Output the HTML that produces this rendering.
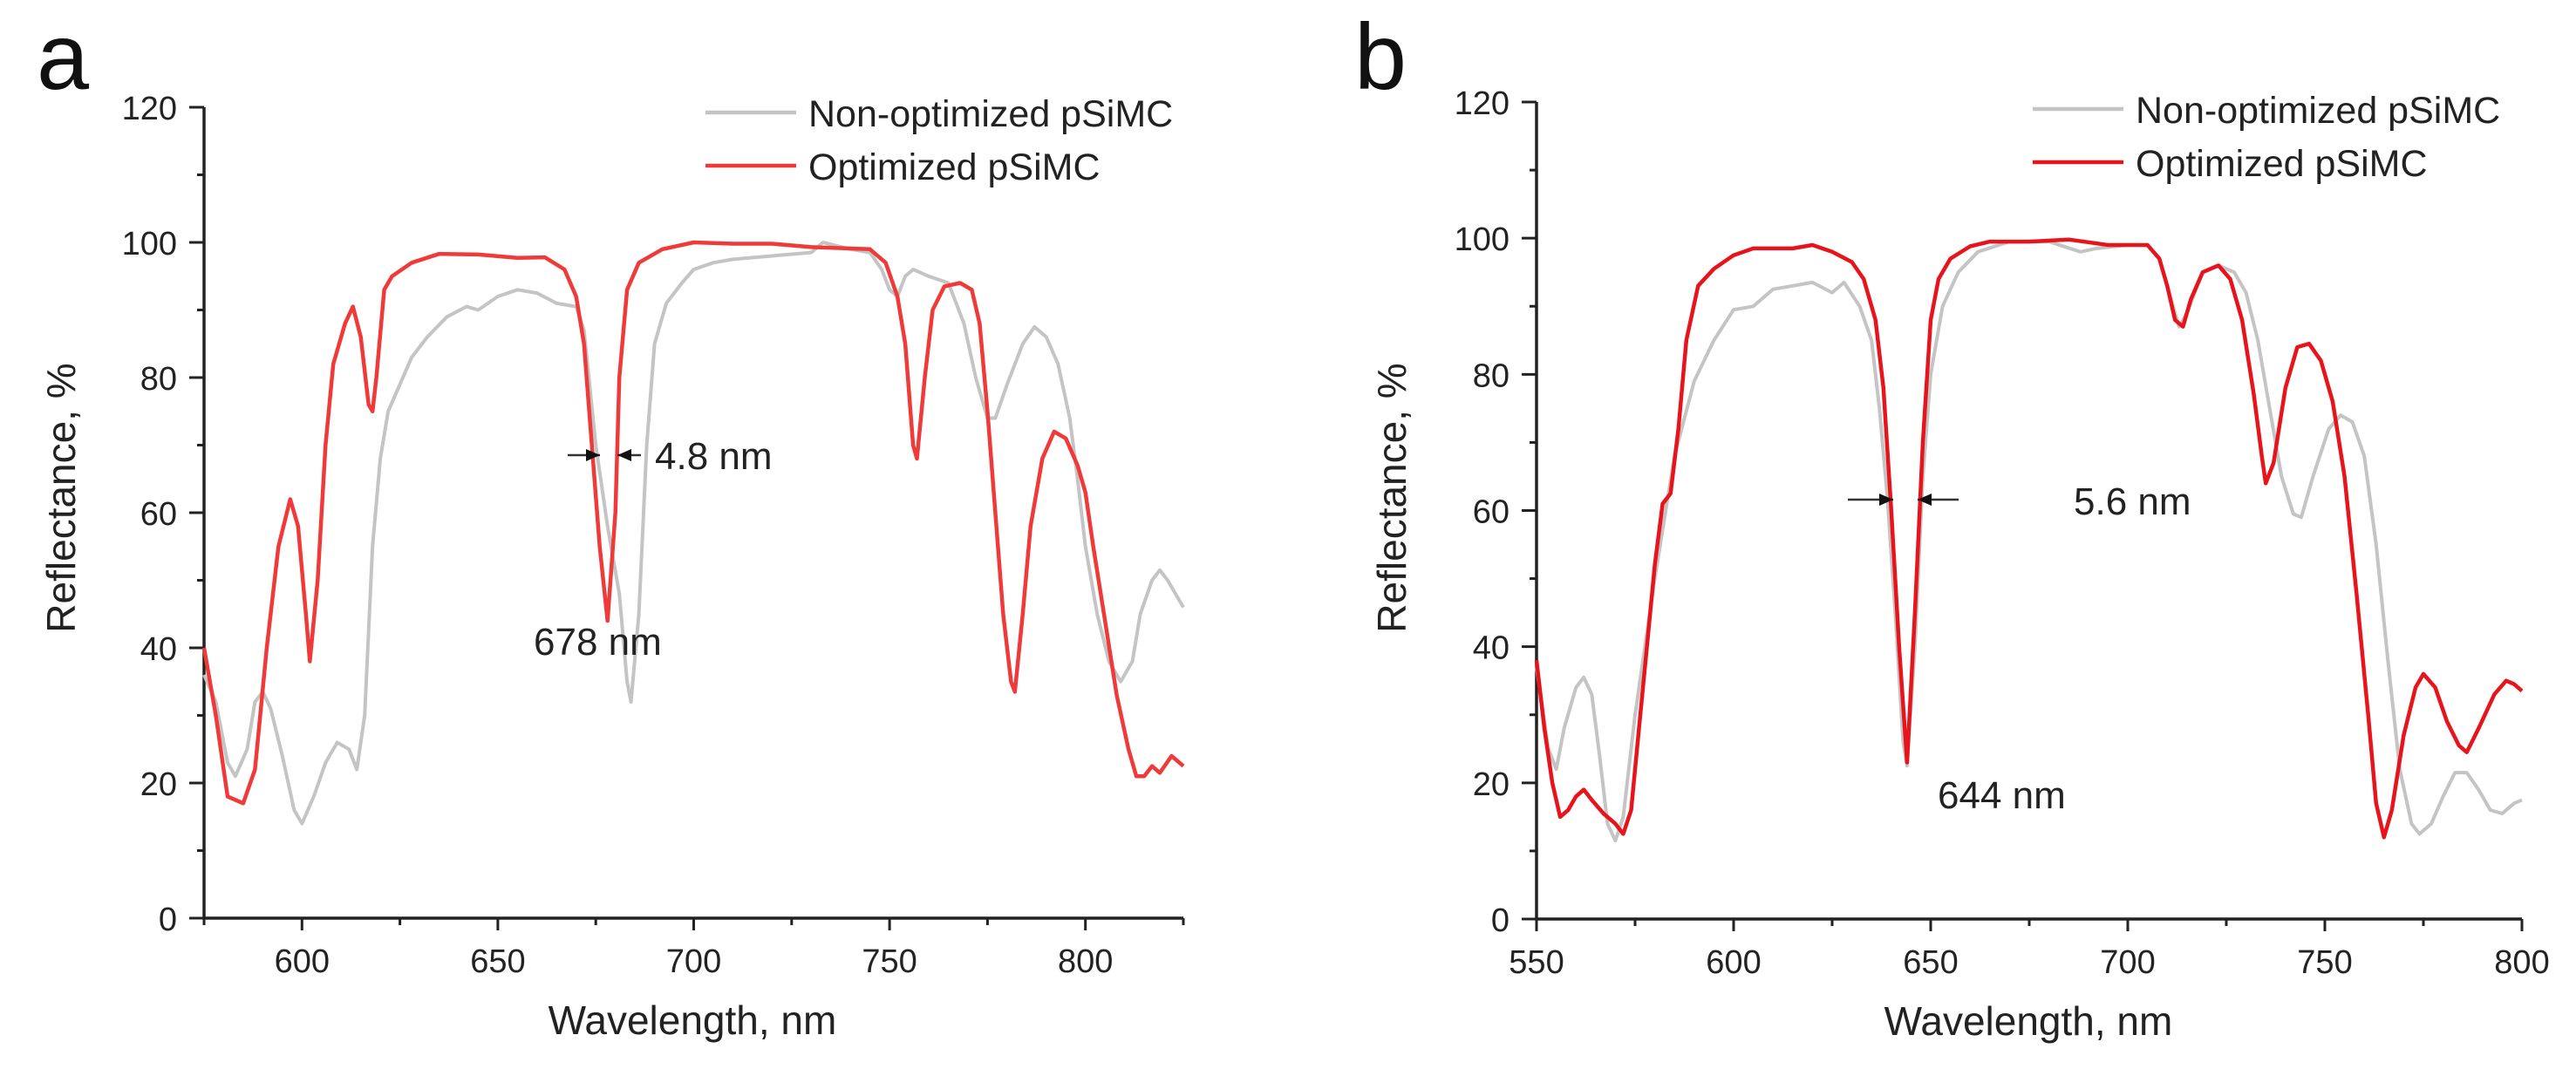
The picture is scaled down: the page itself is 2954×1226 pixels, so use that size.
<!DOCTYPE html>
<html><head><meta charset="utf-8"><style>
body{margin:0;background:#fff}
svg{display:block;font-family:"Liberation Sans",Arial,sans-serif}
</style></head><body>
<svg id="fig" width="2954" height="1226" viewBox="0 0 2954 1226" xmlns="http://www.w3.org/2000/svg"></svg>
<script>
const aRedX=[575,578,581,585,588,591,594,597,599,601,602,604,606,608,611,613,615,617,618,619,621,623,628,635,645,655,662,667,670,672,674,676,678,680,681,683,686,692,700,710,720,730,745,749,752,754,756,757,759,761,764,768,771,773,775,777,779,781,782,784,786,789,792,795,798,800,802,805,808,811,813,815,817,819,822,825];
const aRedY=[40,30,18,17,22,40,55,62,58,45,38,50,70,82,88,90.5,86,76,75,80,93,95,97,98.3,98.2,97.7,97.8,96,92,85,70,55,44,60,80,93,97,99,100,99.8,99.8,99.3,99,97,92,85,70,68,80,90,93.5,94,93,88,75,60,45,35,33.5,45,58,68,72,71,67,63,55,44,33,25,21,21,22.5,21.5,24,22.5];
const aGrayX=[575,578,581,583,586,588,590,592,595,598,600,603,606,609,612,614,616,618,620,622,625,628,632,637,642,645,650,655,660,665,670,672,675,678,681,683,684,686,688,690,693,697,700,705,710,720,730,733,740,745,748,750,752,754,756,760,765,769,772,775,777,780,784,787,790,793,796,798,800,803,806,809,812,814,817,819,821,823,825];
const aGrayY=[36,32,23,21,25,32,33.5,31,24,16,14,18,23,26,25,22,30,55,68,75,79,83,86,89,90.5,90,92,93,92.5,91,90.5,87,70,58,48,35,32,45,70,85,91,94,96,97,97.5,98,98.5,100,99,98.5,96,93,92,95,96,95,94,88,80,74,74,79,85,87.5,86,82,74,65,55,45,38,35,38,45,50,51.5,50,48,46];
const bRedX=[550,552,554,556,558,560,562,564,567,570,572,574,576,578,580,582,584,586,588,591,595,600,605,610,615,620,625,630,633,636,638,640,642,644,646,648,650,652,655,660,665,675,685,695,705,708,710,712,714,716,719,723,726,729,732,734,735,737,740,743,746,749,752,755,758,761,763,765,767,770,773,775,778,781,784,786,789,793,796,798,800];
const bRedY=[38,28,20,15,16,18,19,17.5,15.5,14,12.5,16,28,40,52,61,62.5,72,85,93,95.5,97.5,98.5,98.5,98.5,99,98,96.5,94,88,78,60,40,23,45,70,88,94,97,98.8,99.5,99.5,99.8,99,99,97,93,88,87,91,95,96,94,88,77,68,64,67,78,84,84.5,82,76,65,48,30,17,12,16,27,34,36,34,29,25.5,24.5,28,33,35,34.5,33.5];
const bGrayX=[550,553,555,557,560,562,564,566,568,570,572,575,580,585,590,595,600,605,610,615,620,625,628,632,635,637,639,641,643,644,646,648,650,653,657,662,670,680,688,692,700,705,708,711,713,715,719,723,727,730,733,736,739,742,744,747,751,754,757,760,763,766,769,772,774,777,780,783,786,789,792,795,798,800];
const bGrayY=[37,25,22,28,34,35.5,33,24,14,11.5,15,30,50,68,79,85,89.5,90,92.5,93,93.5,92,93.5,90,85,75,62,45,26,22.5,40,65,80,90,95,98,99.5,99.5,98,98.5,99,99,97,91,87,89,95,96,95,92,85,75,65,59.5,59,65,72,74,73,68,55,38,22,14,12.5,14,18,21.5,21.5,19,16,15.5,17,17.5];
const yTicks=[0,20,40,60,80,100,120];
const aXTicks=[600,650,700,750,800];
const bXTicks=[550,600,650,700,750,800];

const NS="http://www.w3.org/2000/svg";
const svg=document.getElementById('fig');
function mk(tag,attrs,parent){const e=document.createElementNS(NS,tag);for(const k in attrs)e.setAttribute(k,attrs[k]);(parent||svg).appendChild(e);return e;}
function txt(s,attrs,parent){const e=mk('text',attrs,parent);e.textContent=s;return e;}

function panel(cfg){
  const g=mk('g',{});
  
  
  const sx=v=>cfg.x0+(v-cfg.xmin)/(cfg.xmax-cfg.xmin)*(cfg.x1-cfg.x0);
  const sy=v=>cfg.y0+(v-0)/120*(cfg.y1-cfg.y0);
  const ax=mk('path',{d:`M${cfg.x0},${cfg.y1} L${cfg.x0},${cfg.y0} L${cfg.x1},${cfg.y0}`,fill:'none',stroke:'#222','stroke-width':3.5},g);
  
  
  for(let v=0;v<=120;v+=10){
    const major=v%20===0;
    mk('line',{x1:cfg.x0-(major?17:8),x2:cfg.x0,y1:sy(v),y2:sy(v),stroke:'#222','stroke-width':3},g);
  }
  yTicks.forEach(v=>{
    const t=txt(String(v),{x:cfg.x0-31,y:sy(v)+14,'text-anchor':'end','font-size':38,fill:'#222'},g);
    
    
  });
  for(let v=Math.ceil(cfg.xmin/25)*25;v<=cfg.xmax;v+=25){
    const major=v%50===0;
    mk('line',{x1:sx(v),x2:sx(v),y1:cfg.y0,y2:cfg.y0+(major?14:8),stroke:'#222','stroke-width':3},g);
  }
  cfg.xticks.forEach(v=>{
    const t=txt(String(v),{x:sx(v),y:cfg.y0+62,'text-anchor':'middle','font-size':38,fill:'#222'},g);
    
    
  });
  const xt=txt('Wavelength, nm',{x:cfg.xtx,y:cfg.y0+133,'text-anchor':'middle','font-size':46,fill:'#222'},g);
  
  
  const yt=txt('Reflectance, %',{x:0,y:0,'text-anchor':'middle','font-size':46,fill:'#222',transform:`translate(${cfg.ytx},571) rotate(-90)`},g);
  
  
  const pl=txt(cfg.id,{x:cfg.letterX,y:102,'font-size':108,fill:'#111'},g);
  
  
  const line=(xs,ys,col,w,name)=>{
    const d=xs.map((x,i)=>(i?'L':'M')+sx(x).toFixed(1)+','+sy(ys[i]).toFixed(1)).join(' ');
    const p=mk('path',{d,fill:'none',stroke:col,'stroke-width':w,'stroke-linejoin':'round'},g);
    
    
  };
  line(cfg.gx,cfg.gy,'#c4c4c4',4,'series-non-optimized');
  line(cfg.rx,cfg.ry,cfg.red,4.5,'series-optimized');
  const lg=mk('g',{},g);
  
  
  [['Non-optimized pSiMC','#c4c4c4',cfg.legY],['Optimized pSiMC',cfg.red,cfg.legY+61]].forEach(([s,c,y])=>{
    const e=mk('g',{},lg);
    
    
    mk('line',{x1:cfg.legX,x2:cfg.legX+104,y1:y,y2:y,stroke:c,'stroke-width':4.5},e);
    txt(s,{x:cfg.legX+118,y:y+16,'font-size':43,fill:'#222'},e);
  });
  const an=mk('g',{},g);
  
  
  const ay=cfg.arrY;
  mk('line',{x1:cfg.arrL0,x2:cfg.arrL1,y1:ay,y2:ay,stroke:'#333','stroke-width':2.5},an);
  mk('polygon',{points:`${cfg.arrL1},${ay} ${cfg.arrL1-16},${ay-7} ${cfg.arrL1-16},${ay+7}`,fill:'#111'},an);
  mk('line',{x1:cfg.arrR0,x2:cfg.arrR1,y1:ay,y2:ay,stroke:'#333','stroke-width':2.5},an);
  mk('polygon',{points:`${cfg.arrR0},${ay} ${cfg.arrR0+16},${ay-7} ${cfg.arrR0+16},${ay+7}`,fill:'#111'},an);
  txt(cfg.fwhm,{x:cfg.fwX,y:cfg.fwY,'font-size':44,fill:'#222'},an);
  const pk=txt(cfg.peak,{x:cfg.pkX,y:cfg.pkY,'font-size':44,fill:'#222'},g);
  
  
}

panel({id:'a',xmin:575,xmax:825,x0:234,x1:1357,y0:1053,y1:123,xticks:aXTicks,
  rx:aRedX,ry:aRedY,gx:aGrayX,gy:aGrayY,red:'#f03a3a',ytx:86,xtx:794,letterX:42,
  legX:809,legY:129,arrY:522,arrL0:651,arrL1:688,arrR0:708,arrR1:735,fwhm:'4.8 nm',fwX:751,fwY:538,
  peak:'678 nm',pkX:612,pkY:751});
panel({id:'b',xmin:550,xmax:800,x0:1762,x1:2892,y0:1054,y1:117,xticks:bXTicks,
  rx:bRedX,ry:bRedY,gx:bGrayX,gy:bGrayY,red:'#e8141c',ytx:1612,xtx:2326,letterX:1553,
  legX:2331,legY:125,arrY:573,arrL0:2119,arrL1:2171,arrR0:2199,arrR1:2246,fwhm:'5.6 nm',fwX:2378,fwY:590,
  peak:'644 nm',pkX:2222,pkY:927});
</script>
</body></html>
